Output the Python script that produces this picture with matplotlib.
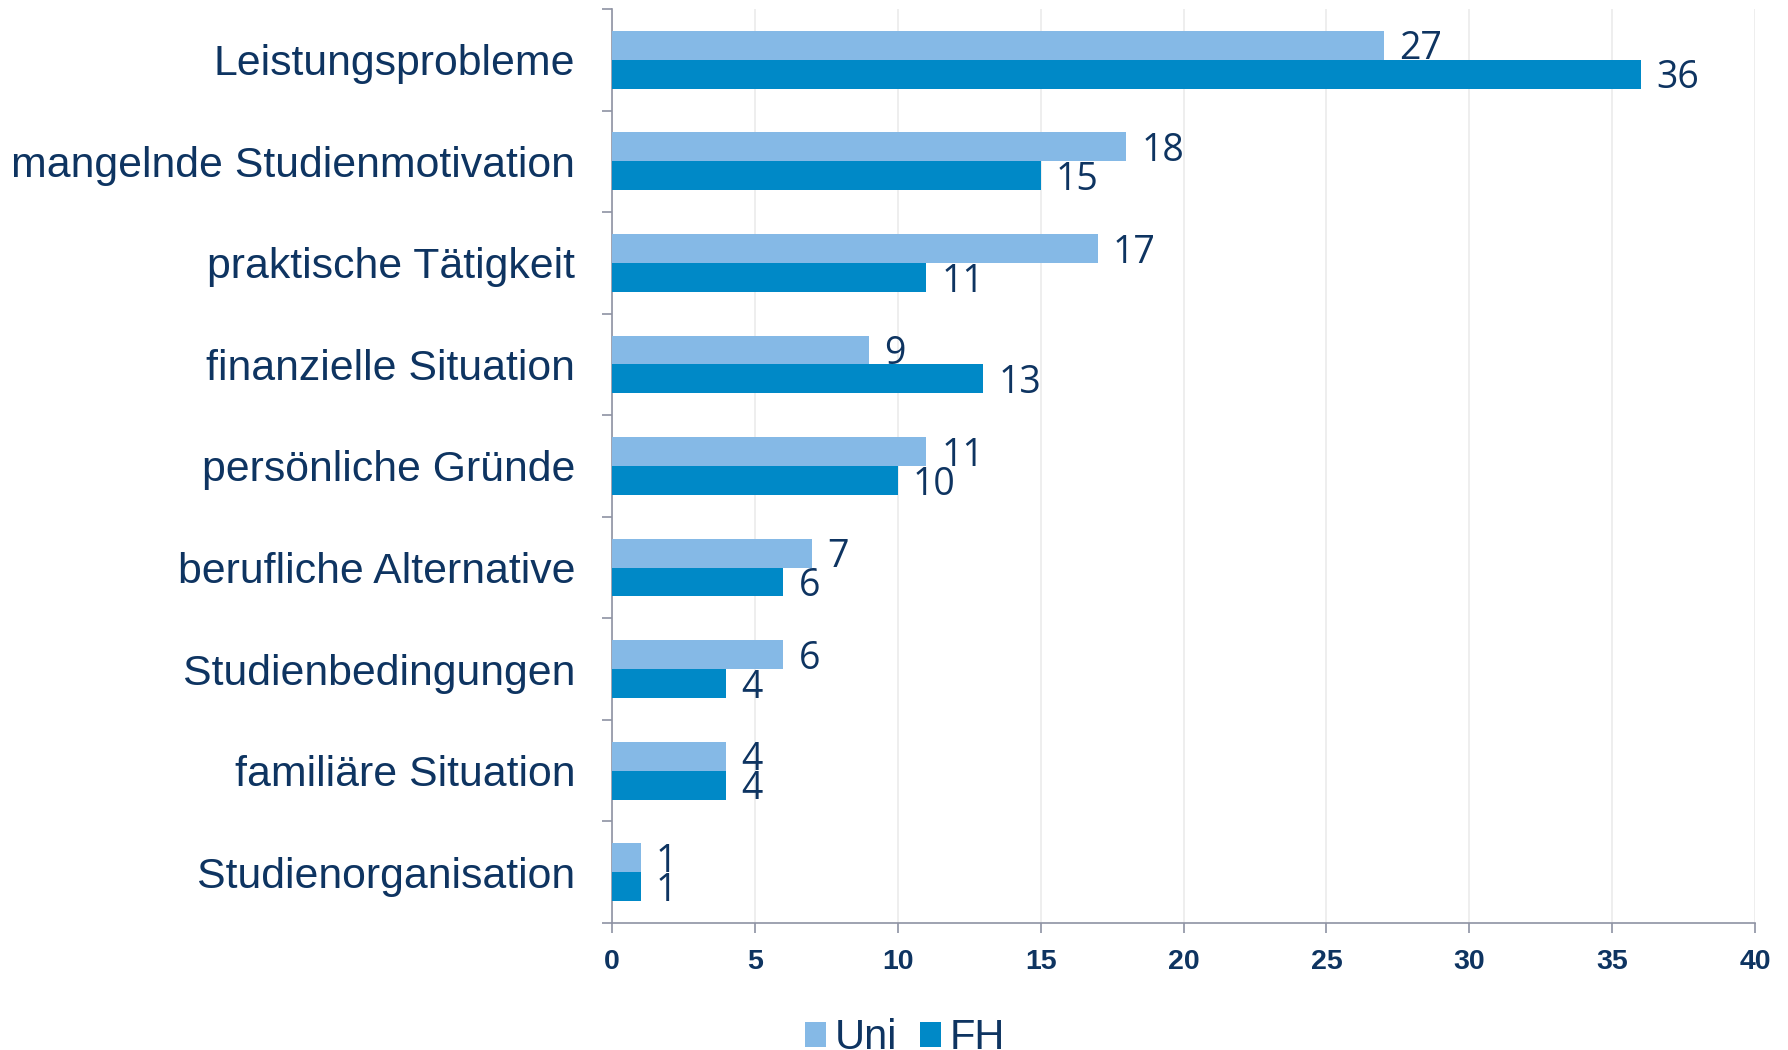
import numpy as np
import matplotlib.pyplot as plt

categories = ['Leistungsprobleme', 'mangelnde Studienmotivation', 'praktische Tätigkeit',
              'finanzielle Situation', 'persönliche Gründe', 'berufliche Alternative',
              'Studienbedingungen', 'familiäre Situation', 'Studienorganisation']
uni = [27, 18, 17, 9, 11, 7, 6, 4, 1]
fh = [36, 15, 11, 13, 10, 6, 4, 4, 1]
xticks = [0, 5, 10, 15, 20, 25, 30, 35, 40]

navy = '#0e3461'
c_uni = '#85b9e6'
c_fh = '#0089c7'
spine = '#8e92a3'

fig = plt.figure(figsize=(17.88, 10.5), dpi=100)
ax = fig.add_axes([612/1788, 1-923/1050, (1755-612)/1788, (923-9)/1050])

y = np.arange(len(categories))
h = 0.285
b1 = ax.barh(y - h/2, uni, height=h, color=c_uni, label='Uni', zorder=3)
b2 = ax.barh(y + h/2, fh, height=h, color=c_fh, label='FH', zorder=3)

# Wertbeschriftungen rechts neben den Balken
for ys, vals in ((y - h/2, uni), (y + h/2, fh)):
    for yi, v in zip(ys, vals):
        ax.annotate(str(v), xy=(v, yi), xytext=(11, -3), textcoords='offset points',
                    ha='left', va='center', fontsize=27, color=navy,
                    family=['Open Sans', 'DejaVu Sans'], zorder=4)

ax.set_ylim(len(categories) - 0.5, -0.5)
ax.set_xlim(0, 40)
ax.set_yticks(y)
ax.set_yticklabels(categories, fontsize=30.8, color=navy, family=['Liberation Sans', 'DejaVu Sans'])
ax.set_yticks(np.arange(-0.5, len(categories), 1), minor=True)
ax.tick_params(axis='y', which='major', length=0, pad=26.5)
ax.tick_params(axis='y', which='minor', length=7.5, color=spine, width=1.2)

ax.set_xticks(xticks)
ax.set_xticklabels([str(t) for t in xticks], fontsize=20.5, fontweight='bold', color=navy,
                   family=['Liberation Sans', 'DejaVu Sans'])
ax.tick_params(axis='x', length=7.5, color=spine, width=1.2, pad=11)

ax.grid(axis='x', color='#ebebeb', linewidth=1.2, zorder=0)
for s in ('top', 'right'):
    ax.spines[s].set_visible(False)
for s in ('left', 'bottom'):
    ax.spines[s].set_color(spine)
    ax.spines[s].set_linewidth(1.2)

fig.legend(handles=[b1, b2], labels=['Uni', 'FH'], loc='center', bbox_to_anchor=(905/1788, 12/1050),
           ncol=2, frameon=False, prop={'family': ['Liberation Sans', 'DejaVu Sans'], 'size': 30},
           labelcolor=navy, handlelength=0.5, handleheight=0.55, handletextpad=0.22,
           columnspacing=0.55, borderpad=0, borderaxespad=0)

fig.savefig('out.png', dpi=100)
